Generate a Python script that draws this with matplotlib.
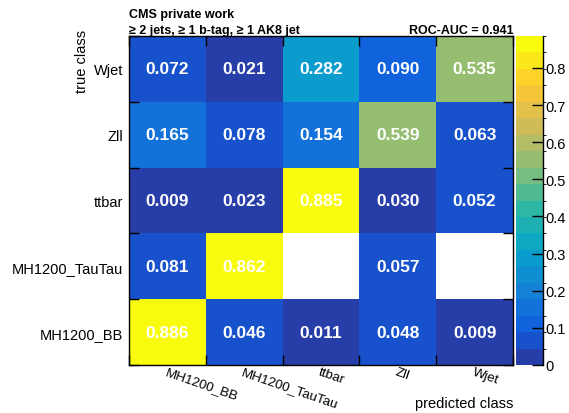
import numpy as np
import matplotlib
matplotlib.use("Agg")
import matplotlib.pyplot as plt
from matplotlib.colors import LinearSegmentedColormap, ListedColormap, BoundaryNorm

plt.rcParams['font.family'] = ['Liberation Sans', 'DejaVu Sans']

# classes, bottom row / left column first
classes = ['MH1200_BB', 'MH1200_TauTau', 'ttbar', 'Zll', 'Wjet']
# rows = true class (bottom to top), cols = predicted class
cm = np.array([
    [0.886, 0.046, 0.011, 0.048, 0.009],   # MH1200_BB
    [0.081, 0.862, 0.000, 0.057, 0.000],   # MH1200_TauTau
    [0.009, 0.023, 0.885, 0.030, 0.052],   # ttbar
    [0.165, 0.078, 0.154, 0.539, 0.063],   # Zll
    [0.072, 0.021, 0.282, 0.090, 0.535],   # Wjet
])
cbar_ticks = [0, 0.1, 0.2, 0.3, 0.4, 0.5, 0.6, 0.7, 0.8]
cbar_labels = ['0', '0.1', '0.2', '0.3', '0.4', '0.5', '0.6', '0.7', '0.8']
roc_auc = 0.941

# ROOT kBird palette, 20 contour levels
stops = [0.0, 0.125, 0.25, 0.375, 0.5, 0.625, 0.75, 0.875, 1.0]
red = [0.2082, 0.0592, 0.0780, 0.0232, 0.1802, 0.5301, 0.8186, 0.9956, 0.9764]
green = [0.1664, 0.3599, 0.5041, 0.6419, 0.7178, 0.7492, 0.7328, 0.7862, 0.9832]
blue = [0.5293, 0.8684, 0.8385, 0.7914, 0.6425, 0.4662, 0.3499, 0.1968, 0.0539]
bird = LinearSegmentedColormap.from_list(
    'bird', [(s, (r, g, b)) for s, r, g, b in zip(stops, red, green, blue)])
nlev = 20
cmap = ListedColormap([bird((i + 0.99) / nlev) for i in range(nlev)])
cmap.set_bad('white')
norm = BoundaryNorm(np.linspace(0, cm.max(), nlev + 1), nlev)

W, H = 569, 414
fig = plt.figure(figsize=(W / 100, H / 100), dpi=100)
ax = fig.add_axes([129 / W, 48 / H, 384 / W, 329 / H])
cax = fig.add_axes([516 / W, 48 / H, 27 / W, 329 / H])

data = np.ma.masked_equal(cm, 0.0)
mesh = ax.pcolormesh(np.arange(6), np.arange(6), data, cmap=cmap, norm=norm)

for i in range(5):
    for j in range(5):
        if cm[i, j] > 0:
            ax.text(j + 0.5, i + 0.5, '%.3f' % cm[i, j], color='white',
                    fontsize=12.5, fontweight='bold', ha='center', va='center')

ax.set_xlim(0, 5)
ax.set_ylim(0, 5)
ax.set_xticks(np.arange(5) + 0.5)
ax.set_yticks(np.arange(5) + 0.5)
ax.set_xticklabels(classes, rotation=-19, ha='left', va='top',
                   rotation_mode='anchor', fontsize=9.6)
ax.set_yticklabels(classes, fontsize=10.5)
ax.tick_params(axis='both', which='major', length=0)
ax.tick_params(axis='x', pad=0.5)
ax.tick_params(axis='y', pad=4)
ax.set_xticks(np.arange(6), minor=True)
ax.set_yticks(np.arange(6), minor=True)
ax.tick_params(which='minor', direction='in', length=7, width=1,
               top=True, right=True, bottom=True, left=True)
for sp in ax.spines.values():
    sp.set_linewidth(1.0)

fig.text(513 / W, 1 - 404 / H, 'predicted class', fontsize=10.5,
         ha='right', va='center')
fig.text(82 / W, 1 - 30 / H, 'true class', fontsize=10.5, rotation=90,
         ha='center', va='top')

fig.text(129 / W, 1 - 15 / H, 'CMS private work', fontsize=9,
         fontweight='bold', ha='left', va='center')
fig.text(129 / W, 1 - 31 / H, '\u2265 2 jets, \u2265 1 b-tag, \u2265 1 AK8 jet',
         fontsize=9, fontweight='bold', ha='left', va='center')
fig.text(514 / W, 1 - 31 / H, 'ROC-AUC = %.3f' % roc_auc, fontsize=9,
         fontweight='bold', ha='right', va='center')

cbar = fig.colorbar(mesh, cax=cax, ticks=cbar_ticks)
cbar.ax.set_yticklabels(cbar_labels, fontsize=10.5)
cbar.outline.set_visible(False)
cbar.ax.tick_params(direction='in', length=8, width=1, pad=2)
cbar.ax.plot([1, 1], [0, 1], transform=cbar.ax.transAxes, color='black',
             lw=1, clip_on=False)

fig.savefig('out.png', dpi=100)
